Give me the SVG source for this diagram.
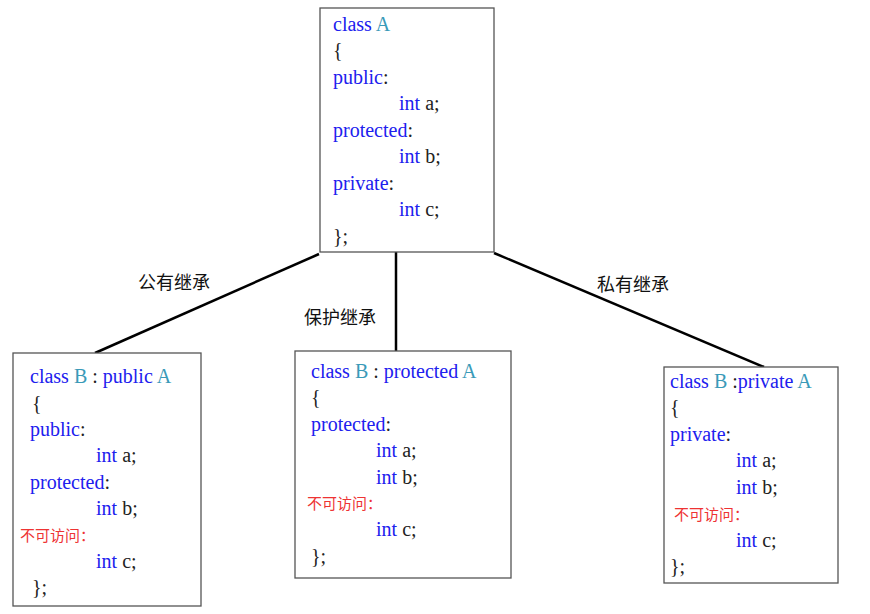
<svg xmlns="http://www.w3.org/2000/svg" width="870" height="614" viewBox="0 0 870 614">
<style>
.box{fill:#fff;stroke:#555;stroke-width:1.3}
.c{font-family:"Liberation Serif",serif;font-size:20px;fill:#2020ee}
.t{fill:#3a9ab8}
.p{fill:#222}
.r{font-family:"Noto Sans CJK SC",sans-serif;font-size:15px;fill:#ee3333}
.lbl{font-family:"Noto Sans CJK SC",sans-serif;font-size:18px;fill:#111}
.ln{stroke:#000;stroke-width:2.5;fill:none}
</style>
<rect width="870" height="614" fill="#fff"/>
<g id="connectors">
<line class="ln" x1="319" y1="254" x2="95" y2="353"/>
<line class="ln" x1="396" y1="252" x2="396" y2="351"/>
<line class="ln" x1="494" y1="253" x2="764" y2="367"/>
<text class="lbl" x="138" y="289">公有继承</text>
<text class="lbl" x="304" y="324">保护继承</text>
<text class="lbl" x="597" y="291">私有继承</text>
</g>
<g id="A">
<rect class="box" x="320" y="8" width="174" height="244"/>
<text class="c" x="333" y="31">class <tspan class="t">A</tspan></text>
<text class="c p" x="333" y="57">{</text>
<text class="c" x="333" y="84">public<tspan class="p">:</tspan></text>
<text class="c" x="399" y="110">int <tspan class="p">a;</tspan></text>
<text class="c" x="333" y="137">protected<tspan class="p">:</tspan></text>
<text class="c" x="399" y="163">int <tspan class="p">b;</tspan></text>
<text class="c" x="333" y="190">private<tspan class="p">:</tspan></text>
<text class="c" x="399" y="216">int <tspan class="p">c;</tspan></text>
<text class="c p" x="333" y="243">};</text>
</g>
<g id="Bpublic">
<rect class="box" x="13" y="353" width="188" height="253"/>
<text class="c" x="30" y="383">class <tspan class="t">B</tspan><tspan class="p"> : </tspan>public <tspan class="t">A</tspan></text>
<text class="c p" x="32" y="410">{</text>
<text class="c" x="30" y="436">public<tspan class="p">:</tspan></text>
<text class="c" x="96" y="462">int <tspan class="p">a;</tspan></text>
<text class="c" x="30" y="489">protected<tspan class="p">:</tspan></text>
<text class="c" x="96" y="515">int <tspan class="p">b;</tspan></text>
<text class="r" x="20" y="541">不可访问：</text>
<text class="c" x="96" y="568">int <tspan class="p">c;</tspan></text>
<text class="c p" x="32" y="594">};</text>
</g>
<g id="Bprotected">
<rect class="box" x="295" y="351" width="216" height="227"/>
<text class="c" x="311" y="378">class <tspan class="t">B</tspan><tspan class="p"> : </tspan>protected <tspan class="t">A</tspan></text>
<text class="c p" x="311" y="404">{</text>
<text class="c" x="311" y="431">protected<tspan class="p">:</tspan></text>
<text class="c" x="376" y="457">int <tspan class="p">a;</tspan></text>
<text class="c" x="376" y="484">int <tspan class="p">b;</tspan></text>
<text class="r" x="307" y="509">不可访问：</text>
<text class="c" x="376" y="536">int <tspan class="p">c;</tspan></text>
<text class="c p" x="311" y="563">};</text>
</g>
<g id="Bprivate">
<rect class="box" x="664" y="367" width="174" height="216"/>
<text class="c" x="670" y="388">class <tspan class="t">B</tspan><tspan class="p"> :</tspan>private <tspan class="t">A</tspan></text>
<text class="c p" x="670" y="414">{</text>
<text class="c" x="670" y="441">private<tspan class="p">:</tspan></text>
<text class="c" x="736" y="467">int <tspan class="p">a;</tspan></text>
<text class="c" x="736" y="494">int <tspan class="p">b;</tspan></text>
<text class="r" x="674" y="520">不可访问：</text>
<text class="c" x="736" y="547">int <tspan class="p">c;</tspan></text>
<text class="c p" x="670" y="573">};</text>
</g>
</svg>
